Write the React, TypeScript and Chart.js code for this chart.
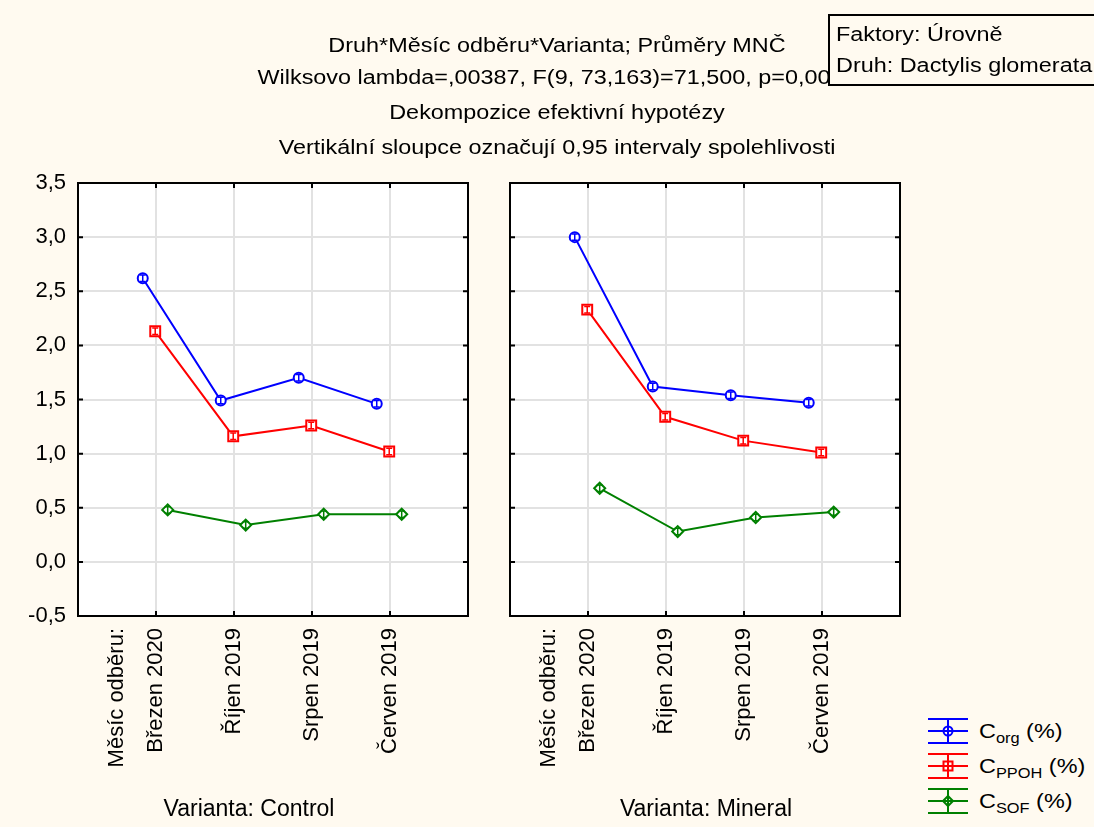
import React, { useEffect, useRef } from 'react';
import { Chart, registerables } from 'chart.js';

Chart.register(...registerables);

// ---------- data ----------
const axisLabels = ['Měsíc odběru:', 'Březen 2020', 'Říjen 2019', 'Srpen 2019', 'Červen 2019'];
const categories = ['Březen 2020', 'Říjen 2019', 'Srpen 2019', 'Červen 2019'];

const controlCorg = [2.62, 1.49, 1.70, 1.46];
const controlCppoh = [2.13, 1.16, 1.26, 1.02];
const controlCsof = [0.48, 0.34, 0.44, 0.44];

const mineralCorg = [3.00, 1.62, 1.54, 1.47];
const mineralCppoh = [2.33, 1.34, 1.12, 1.01];
const mineralCsof = [0.68, 0.28, 0.41, 0.46];

// 0.95 confidence interval half-widths
const controlCorgCI = [0.03, 0.03, 0.03, 0.03];
const controlCppohCI = [0.03, 0.03, 0.03, 0.03];
const controlCsofCI = [0.03, 0.03, 0.03, 0.03];
const mineralCorgCI = [0.03, 0.03, 0.03, 0.03];
const mineralCppohCI = [0.03, 0.03, 0.03, 0.03];
const mineralCsofCI = [0.03, 0.03, 0.03, 0.03];

const yMin = -0.5;
const yMax = 3.5;
const yStep = 0.5;

const titleLines = [
  'Druh*Měsíc odběru*Varianta; Průměry MNČ',
  'Wilksovo lambda=,00387, F(9, 73,163)=71,500, p=0,0000',
  'Dekompozice efektivní hypotézy',
  'Vertikální sloupce označují 0,95 intervaly spolehlivosti',
];
const boxLines = ['Faktory: Úrovně', 'Druh: Dactylis glomerata'];
const variantTitles = ['Varianta: Control', 'Varianta: Mineral'];

// ---------- styling ----------
const FONT = '"Liberation Sans", Arial, Helvetica, sans-serif';
const BG = '#FFFAF0';
const GRID = '#e2e2e2';
const labelPos = [0.5, ...categories.map((_, i) => i + 1)];
const categoryPos = categories.map((_, i) => i + 1);

const seriesMeta = [
  { main: 'C', sub: 'org', color: '#0000FF', style: 'circle', radius: 5, offset: -0.17 },
  { main: 'C', sub: 'PPOH', color: '#FF0000', style: 'rect', radius: 7, offset: -0.01 },
  { main: 'C', sub: 'SOF', color: '#008000', style: 'rectRot', radius: 5.5, offset: 0.15 },
];

const framePlugin = {
  id: 'frame',
  beforeDraw(chart: any) {
    const { ctx, chartArea: a } = chart;
    ctx.save();
    ctx.fillStyle = '#ffffff';
    ctx.fillRect(a.left, a.top, a.right - a.left, a.bottom - a.top);
    ctx.restore();
  },
  afterDraw(chart: any) {
    const { ctx, chartArea: a, scales } = chart;
    ctx.save();
    ctx.strokeStyle = '#000';
    ctx.lineWidth = 2;
    ctx.strokeRect(a.left, a.top, a.right - a.left, a.bottom - a.top);
    ctx.beginPath();
    scales.y.ticks.forEach((t: any) => {
      const py = scales.y.getPixelForValue(t.value);
      ctx.moveTo(a.left, py);
      ctx.lineTo(a.left + 5, py);
      ctx.moveTo(a.right, py);
      ctx.lineTo(a.right - 5, py);
    });
    categoryPos.forEach((v) => {
      const px = scales.x.getPixelForValue(v);
      ctx.moveTo(px, a.top);
      ctx.lineTo(px, a.top + 5);
      ctx.moveTo(px, a.bottom);
      ctx.lineTo(px, a.bottom - 5);
    });
    ctx.stroke();
    ctx.restore();
  },
};

const errorBarPlugin = {
  id: 'errorBars',
  afterDatasetsDraw(chart: any) {
    const { ctx } = chart;
    const ys = chart.scales.y;
    chart.data.datasets.forEach((ds: any, di: number) => {
      const meta = chart.getDatasetMeta(di);
      ds.data.forEach((pt: any, i: number) => {
        const e = ds.errors[i];
        const px = meta.data[i].x;
        const top = ys.getPixelForValue(pt.y + e);
        const bot = ys.getPixelForValue(pt.y - e);
        ctx.save();
        ctx.strokeStyle = ds.borderColor;
        ctx.lineWidth = 1.5;
        ctx.beginPath();
        ctx.moveTo(px, top);
        ctx.lineTo(px, bot);
        ctx.moveTo(px - 3, top);
        ctx.lineTo(px + 3, top);
        ctx.moveTo(px - 3, bot);
        ctx.lineTo(px + 3, bot);
        ctx.stroke();
        ctx.restore();
      });
    });
  },
};

const TITLE_PAD = 4;
const TICK_FONT = 22;
const VARIANT_FONT = 23;

function buildConfig(
  values: number[][],
  cis: number[][],
  variant: string,
  showY: boolean,
  yWidth: number,
  rightWidth: number,
  canvasH: number,
  areaTop: number,
  areaBottom: number
): any {
  const titleH = VARIANT_FONT * 1.2 + TITLE_PAD * 2;
  const xHeight = canvasH - titleH - areaBottom;
  return {
    type: 'line',
    data: {
      datasets: values.map((vals, s) => ({
        label: seriesMeta[s].main + seriesMeta[s].sub,
        data: vals.map((v, i) => ({ x: categoryPos[i] + seriesMeta[s].offset, y: v })),
        errors: cis[s],
        borderColor: seriesMeta[s].color,
        backgroundColor: '#ffffff',
        borderWidth: 2,
        pointStyle: seriesMeta[s].style,
        pointRadius: seriesMeta[s].radius,
        pointBorderWidth: 2,
        pointBorderColor: seriesMeta[s].color,
        pointBackgroundColor: '#ffffff',
        tension: 0,
        fill: false,
        yAxisID: 'y',
      })),
    },
    options: {
      responsive: false,
      animation: false,
      devicePixelRatio: 1,
      layout: { padding: { top: areaTop, left: 0, right: 0, bottom: 0 } },
      plugins: {
        legend: { display: false },
        tooltip: { enabled: false },
        title: {
          display: true,
          text: variant,
          position: 'bottom',
          color: '#000',
          font: { family: FONT, size: VARIANT_FONT, weight: 'normal' },
          padding: { top: TITLE_PAD, bottom: TITLE_PAD },
        },
      },
      scales: {
        x: {
          type: 'linear',
          min: 0,
          max: labelPos.length,
          afterBuildTicks: (sc: any) => {
            sc.ticks = labelPos.map((v) => ({ value: v }));
          },
          afterFit: (sc: any) => {
            sc.height = xHeight;
          },
          border: { display: false },
          grid: {
            drawTicks: false,
            lineWidth: 2,
            color: (c: any) => (c.tick && categoryPos.includes(c.tick.value) ? GRID : 'rgba(0,0,0,0)'),
          },
          ticks: {
            autoSkip: false,
            minRotation: 90,
            maxRotation: 90,
            padding: 12,
            color: '#000',
            font: { family: FONT, size: TICK_FONT },
            callback: (_v: any, i: number) => axisLabels[i],
          },
        },
        y: {
          type: 'linear',
          position: 'left',
          min: yMin,
          max: yMax,
          afterFit: (sc: any) => {
            sc.width = yWidth;
          },
          border: { display: false },
          grid: { drawTicks: false, lineWidth: 2, color: GRID },
          ticks: {
            display: showY,
            stepSize: yStep,
            padding: 12,
            color: '#000',
            font: { family: FONT, size: TICK_FONT },
            callback: (v: any) => Number(v).toFixed(1).replace('.', ','),
          },
        },
        yRight: {
          type: 'linear',
          position: 'right',
          min: yMin,
          max: yMax,
          afterFit: (sc: any) => {
            sc.width = rightWidth;
          },
          border: { display: false },
          grid: { display: false, drawTicks: false },
          ticks: { display: false },
        },
      },
    },
    plugins: [framePlugin, errorBarPlugin],
  };
}

const CANVAS_H = 827;
const AREA_TOP = 183;
const AREA_BOTTOM = 616;

function Panel(props: {
  left: number;
  width: number;
  values: number[][];
  cis: number[][];
  variant: string;
  showY: boolean;
  yWidth: number;
  rightWidth: number;
}) {
  const ref = useRef<HTMLCanvasElement>(null);
  useEffect(() => {
    if (!ref.current) return;
    const chart = new Chart(
      ref.current,
      buildConfig(props.values, props.cis, props.variant, props.showY, props.yWidth, props.rightWidth, CANVAS_H, AREA_TOP, AREA_BOTTOM)
    );
    return () => chart.destroy();
  }, []);
  return (
    <canvas
      ref={ref}
      width={props.width}
      height={CANVAS_H}
      style={{ position: 'absolute', left: props.left, top: 0, width: props.width, height: CANVAS_H }}
    />
  );
}

const stretch = (origin: string): React.CSSProperties => ({
  transform: 'scaleX(1.17)',
  transformOrigin: origin,
  whiteSpace: 'nowrap',
});

function LegendIcon({ color, style }: { color: string; style: string }) {
  let marker: React.ReactNode = null;
  if (style === 'circle') marker = <circle cx={21} cy={14} r={4.5} fill="none" stroke={color} strokeWidth={2} />;
  else if (style === 'rect') marker = <rect x={16.5} y={9.5} width={9} height={9} fill="none" stroke={color} strokeWidth={2} />;
  else marker = <polygon points="21,9 26,14 21,19 16,14" fill="none" stroke={color} strokeWidth={2} />;
  return (
    <svg width={44} height={28} style={{ position: 'absolute', left: 0, top: 0 }}>
      <line x1={1} y1={2} x2={41} y2={2} stroke={color} strokeWidth={2} />
      <line x1={1} y1={14} x2={41} y2={14} stroke={color} strokeWidth={2} />
      <line x1={1} y1={26} x2={41} y2={26} stroke={color} strokeWidth={2} />
      <line x1={21} y1={2} x2={21} y2={26} stroke={color} strokeWidth={2} />
      {marker}
    </svg>
  );
}

const titleCenters = [45, 77, 112, 147];
const legendCenters = [731, 766, 801];

export default function App() {
  return (
    <div
      style={{
        position: 'absolute',
        left: 0,
        top: 0,
        width: 1094,
        height: 827,
        background: BG,
        overflow: 'hidden',
        fontFamily: FONT,
        color: '#000',
      }}
    >
      <Panel
        left={0}
        width={498}
        values={[controlCorg, controlCppoh, controlCsof]}
        cis={[controlCorgCI, controlCppohCI, controlCsofCI]}
        variant={variantTitles[0]}
        showY={true}
        yWidth={78}
        rightWidth={30}
      />
      <Panel
        left={500}
        width={412}
        values={[mineralCorg, mineralCppoh, mineralCsof]}
        cis={[mineralCorgCI, mineralCppohCI, mineralCsofCI]}
        variant={variantTitles[1]}
        showY={false}
        yWidth={10}
        rightWidth={12}
      />
      {titleLines.map((t, i) => (
        <div
          key={i}
          style={{
            position: 'absolute',
            left: 57,
            width: 1000,
            top: titleCenters[i] - 12,
            height: 24,
            lineHeight: '24px',
            fontSize: 20,
            textAlign: 'center',
            ...stretch('center'),
          }}
        >
          {t}
        </div>
      ))}
      <div
        style={{
          position: 'absolute',
          left: 828,
          top: 14,
          width: 300,
          height: 68,
          border: '2px solid #000',
          background: BG,
          zIndex: 2,
        }}
      >
        {boxLines.map((t, i) => (
          <div
            key={i}
            style={{
              position: 'absolute',
              left: 6,
              top: 5 + i * 31,
              height: 26,
              lineHeight: '26px',
              fontSize: 20,
              ...stretch('left center'),
            }}
          >
            {t}
          </div>
        ))}
      </div>
      {seriesMeta.map((s, i) => (
        <div key={i} style={{ position: 'absolute', left: 927, top: legendCenters[i] - 14, width: 170, height: 28 }}>
          <LegendIcon color={s.color} style={s.style} />
          <div
            style={{
              position: 'absolute',
              left: 52,
              top: 0,
              height: 28,
              lineHeight: '28px',
              fontSize: 20,
              ...stretch('left center'),
            }}
          >
            {s.main}
            <span style={{ fontSize: 14, position: 'relative', top: 5 }}>{s.sub}</span>
            {' (%)'}
          </div>
        </div>
      ))}
    </div>
  );
}
